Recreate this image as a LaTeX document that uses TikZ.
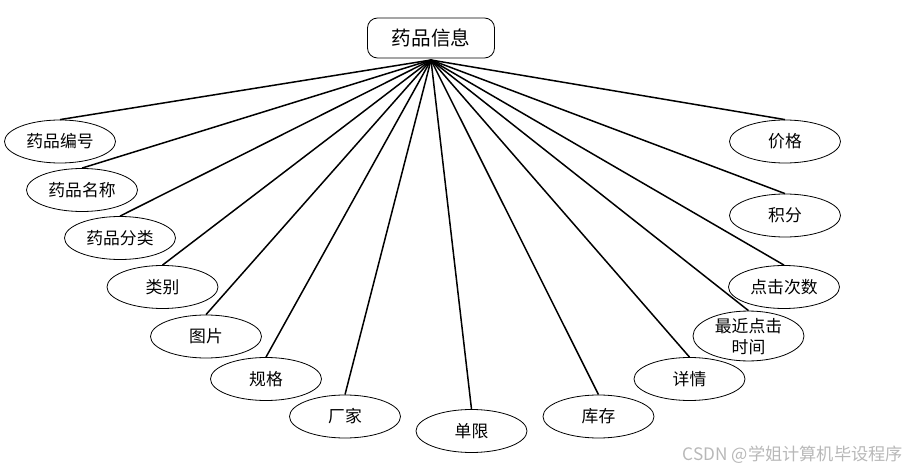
\documentclass[tikz,border=0pt]{standalone}
\usepackage{fontspec}
\usepackage[dvipsnames,svgnames]{xcolor}
\usepackage{tikz}
\usetikzlibrary{shapes.geometric}
\newfontfamily\cjk{Noto Sans CJK SC}
\tikzset{
  entity/.style={draw, rounded corners=5pt, minimum width=63.5pt, minimum height=20pt, inner sep=0pt, font=\cjk\fontsize{9.8}{11}\selectfont, fill=white},
  attr/.style={draw, ellipse, minimum width=55.5pt, minimum height=21.5pt, inner sep=0pt, font=\cjk\fontsize{8.4}{9.6}\selectfont, fill=white, align=center},
  link/.style={draw=black, line width=0.75pt},
  wmark/.style={font=\cjk\fontsize{8.6}{10}\selectfont, text=black!28},
}
\begin{document}
\begin{tikzpicture}[x=0.5pt,y=-0.5pt]
\useasboundingbox (0,0) rectangle (912,471);
\node[entity] (info) at (431,38) {药品信息};
\coordinate (hub) at (431,60);
% left side
\node[attr] (a1)  at (60,141.5)  {药品编号};
\node[attr] (a2)  at (82,190)    {药品名称};
\node[attr] (a3)  at (120,238)   {药品分类};
\node[attr] (a4)  at (162.5,287) {类别};
\node[attr] (a5)  at (206,336.5) {图片};
\node[attr] (a6)  at (266,379)   {规格};
\node[attr] (a7)  at (345,416.5) {厂家};
\node[attr] (a8)  at (471.5,431) {单限};
% right side
\node[attr] (a9)  at (598.5,416.5) {库存};
\node[attr] (a10) at (689.5,379)   {详情};
\node[attr, text depth=0pt] (a11) at (748.5,336) {最近点击\\[1pt]时间};
\node[attr] (a12) at (784,287)     {点击次数};
\node[attr] (a13) at (785,215.5)   {积分};
\node[attr] (a14) at (785,141.5)   {价格};
\foreach \n in {a1,a2,a3,a4,a5,a6,a7,a8,a9,a10,a11,a12,a13,a14} \draw[link] (hub) -- (\n.north);
\node[wmark, anchor=east] (wm) at (910,455) {CSDN @学姐计算机毕设程序};
\end{tikzpicture}
\end{document}
